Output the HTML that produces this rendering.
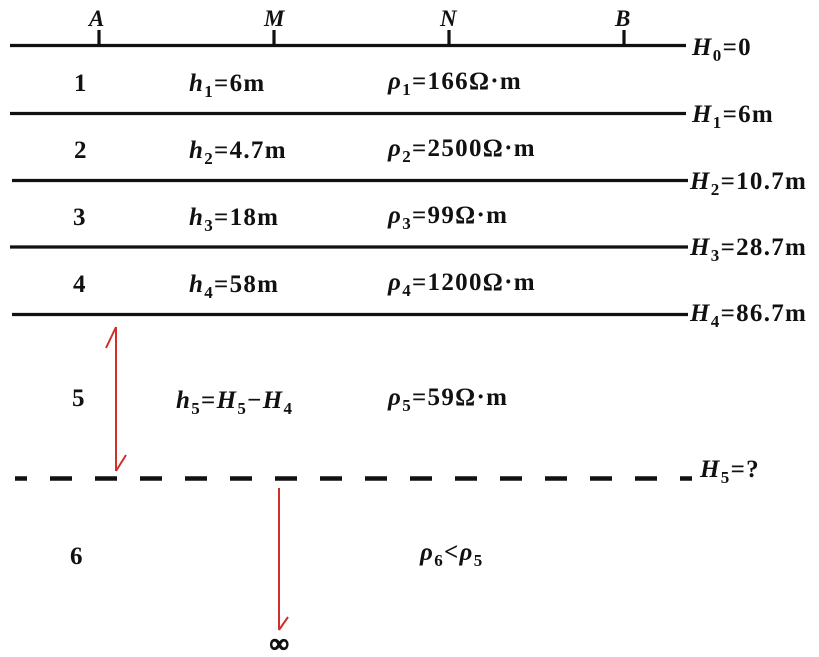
<!DOCTYPE html>
<html><head><meta charset="utf-8"><style>
html,body{margin:0;padding:0;background:#fff;}
svg{display:block;}
text{font-family:"Liberation Serif",serif;font-weight:bold;font-size:25px;fill:#111;letter-spacing:1.3px;}
.i{font-style:italic;}
.s{font-size:17px;font-style:normal;}
</style></head><body>
<svg width="819" height="657" viewBox="0 0 819 657" xmlns="http://www.w3.org/2000/svg">
<g stroke="#111" stroke-width="3.2">
<line x1="10" y1="45.5" x2="686" y2="45.5"/>
<line x1="10" y1="113.5" x2="686" y2="113.5"/>
<line x1="12" y1="180.5" x2="688" y2="180.5"/>
<line x1="10" y1="247" x2="688" y2="247"/>
<line x1="12" y1="314.5" x2="688" y2="314.5"/>
<line x1="99" y1="30" x2="99" y2="45"/>
<line x1="274" y1="30" x2="274" y2="45"/>
<line x1="449" y1="30" x2="449" y2="45"/>
<line x1="624" y1="30" x2="624" y2="45"/>
<line x1="15" y1="478.5" x2="692" y2="478.5" stroke-width="4.5" stroke-dasharray="12 23 22 23 22 23 22 23 22 23 22 23 22 23 22 23 22 23 22 23 22 23 22 23 22 23 22 23 22 23 22 23 22 23" />
</g>
<g stroke="#d0302a" stroke-width="2" fill="none">
<line x1="116" y1="327" x2="116" y2="471"/>
<polyline points="106,348 116,327"/>
<polyline points="126,455 116,471"/>
<line x1="279" y1="488" x2="279" y2="630"/>
<polyline points="288,617 279,630"/>
</g>
<text class="i" x="89" y="26" style="font-size:23px">A</text>
<text class="i" x="264" y="26" style="font-size:23px">M</text>
<text class="i" x="440" y="26" style="font-size:23px">N</text>
<text class="i" x="615" y="26" style="font-size:23px">B</text>

<text x="74" y="91">1</text>
<text x="74" y="158">2</text>
<text x="73" y="225">3</text>
<text x="73" y="292">4</text>
<text x="72" y="406">5</text>
<text x="70" y="564">6</text>

<text x="189" y="91"><tspan class="i">h</tspan><tspan class="s" dy="6">1</tspan><tspan dy="-6">=6m</tspan></text>
<text x="189" y="158"><tspan class="i">h</tspan><tspan class="s" dy="6">2</tspan><tspan dy="-6">=4.7m</tspan></text>
<text x="189" y="225"><tspan class="i">h</tspan><tspan class="s" dy="6">3</tspan><tspan dy="-6">=18m</tspan></text>
<text x="189" y="292"><tspan class="i">h</tspan><tspan class="s" dy="6">4</tspan><tspan dy="-6">=58m</tspan></text>
<text x="176" y="408"><tspan class="i">h</tspan><tspan class="s" dy="6">5</tspan><tspan dy="-6">=</tspan><tspan class="i">H</tspan><tspan class="s" dy="6">5</tspan><tspan dy="-6">−</tspan><tspan class="i">H</tspan><tspan class="s" dy="6">4</tspan></text>

<text x="388" y="89"><tspan class="i">ρ</tspan><tspan class="s" dy="6">1</tspan><tspan dy="-6">=166Ω·m</tspan></text>
<text x="388" y="156"><tspan class="i">ρ</tspan><tspan class="s" dy="6">2</tspan><tspan dy="-6">=2500Ω·m</tspan></text>
<text x="388" y="223"><tspan class="i">ρ</tspan><tspan class="s" dy="6">3</tspan><tspan dy="-6">=99Ω·m</tspan></text>
<text x="388" y="290"><tspan class="i">ρ</tspan><tspan class="s" dy="6">4</tspan><tspan dy="-6">=1200Ω·m</tspan></text>
<text x="388" y="405"><tspan class="i">ρ</tspan><tspan class="s" dy="6">5</tspan><tspan dy="-6">=59Ω·m</tspan></text>
<text x="420" y="560"><tspan class="i">ρ</tspan><tspan class="s" dy="6">6</tspan><tspan dy="-6">&lt;</tspan><tspan class="i">ρ</tspan><tspan class="s" dy="6">5</tspan></text>

<text x="692" y="55"><tspan class="i">H</tspan><tspan class="s" dy="6">0</tspan><tspan dy="-6">=0</tspan></text>
<text x="692" y="122"><tspan class="i">H</tspan><tspan class="s" dy="6">1</tspan><tspan dy="-6">=6m</tspan></text>
<text x="690" y="189"><tspan class="i">H</tspan><tspan class="s" dy="6">2</tspan><tspan dy="-6">=10.7m</tspan></text>
<text x="690" y="255"><tspan class="i">H</tspan><tspan class="s" dy="6">3</tspan><tspan dy="-6">=28.7m</tspan></text>
<text x="690" y="321"><tspan class="i">H</tspan><tspan class="s" dy="6">4</tspan><tspan dy="-6">=86.7m</tspan></text>
<text x="700" y="477"><tspan class="i">H</tspan><tspan class="s" dy="6">5</tspan><tspan dy="-6">=?</tspan></text>
<text x="270" y="652" style="font-size:26px;stroke:#111;stroke-width:1.5">∞</text>
</svg>
</body></html>
